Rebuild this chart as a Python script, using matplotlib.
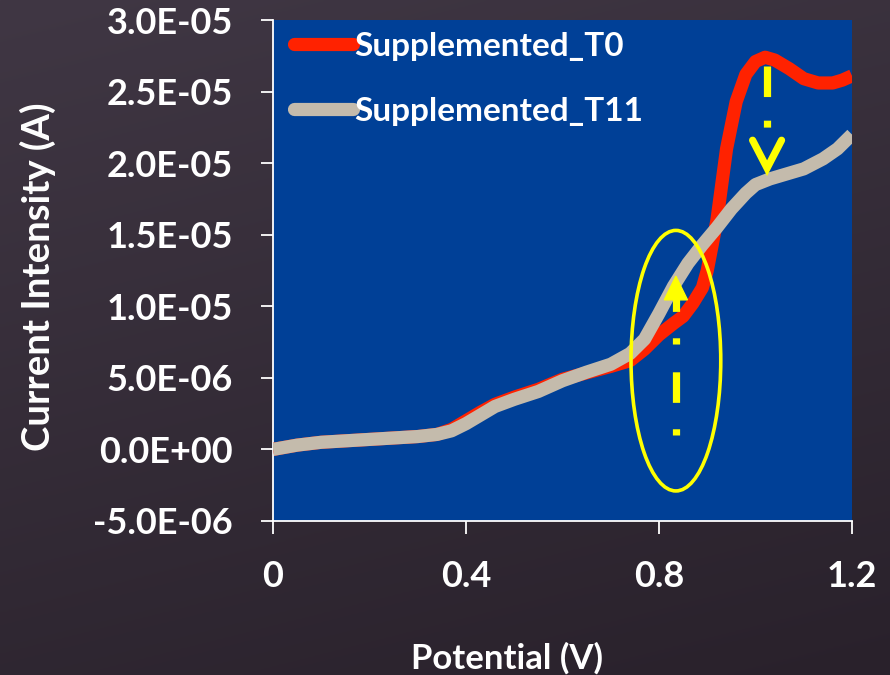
import numpy as np
import matplotlib
matplotlib.use("Agg")
import matplotlib.pyplot as plt
from matplotlib.patches import Ellipse, Polygon

# ---- data ----
x_t0 = [0.00, 0.05, 0.10, 0.15, 0.20, 0.25, 0.30, 0.34, 0.37, 0.40, 0.43, 0.46,
        0.50, 0.55, 0.60, 0.65, 0.70, 0.74, 0.77, 0.80, 0.83, 0.85, 0.87, 0.89,
        0.90, 0.92, 0.94, 0.96, 0.98, 1.00, 1.02, 1.04, 1.07, 1.10, 1.13, 1.16,
        1.18, 1.20]
y_t0 = [0.0, 0.3, 0.5, 0.6, 0.7, 0.8, 0.9, 1.05, 1.4, 2.0, 2.6, 3.15,
        3.65, 4.2, 4.9, 5.35, 5.8, 6.2, 7.0, 8.0, 8.8, 9.3, 10.2, 11.3,
        12.5, 16.0, 21.0, 24.3, 26.2, 27.1, 27.4, 27.2, 26.6, 25.9, 25.6, 25.6,
        25.8, 26.1]

x_t11 = [0.00, 0.05, 0.10, 0.15, 0.20, 0.25, 0.30, 0.34, 0.37, 0.40, 0.43, 0.46,
         0.50, 0.55, 0.60, 0.65, 0.70, 0.74, 0.77, 0.80, 0.83, 0.86, 0.89, 0.92,
         0.95, 0.98, 1.00, 1.03, 1.06, 1.10, 1.14, 1.17, 1.20]
y_t11 = [0.0, 0.3, 0.5, 0.6, 0.7, 0.8, 0.9, 1.05, 1.3, 1.8, 2.4, 3.0,
         3.5, 4.05, 4.8, 5.4, 5.95, 6.7, 7.7, 9.5, 11.4, 13.0, 14.3, 15.5,
         16.8, 17.9, 18.5, 18.9, 19.2, 19.6, 20.3, 21.0, 22.0]

series_labels = ["Supplemented_T0", "Supplemented_T11"]
x_ticks = [0, 0.4, 0.8, 1.2]
x_tick_labels = ["0", "0.4", "0.8", "1.2"]
y_ticks = [-5e-6, 0, 5e-6, 1e-5, 1.5e-5, 2e-5, 2.5e-5, 3e-5]
y_tick_labels = ["-5.0E-06", "0.0E+00", "5.0E-06", "1.0E-05", "1.5E-05",
                 "2.0E-05", "2.5E-05", "3.0E-05"]

scale = 1e-6
y_t0 = [v * scale for v in y_t0]
y_t11 = [v * scale for v in y_t11]

FONT = "Lato"
WHITE = "white"
BLUE = "#004097"
RED = "#ff2200"
GREY = "#c4bbac"
YELLOW = "#ffff00"

plt.rcParams["font.family"] = [FONT, "DejaVu Sans"]
plt.rcParams["font.weight"] = "bold"
plt.rcParams["lines.scale_dashes"] = False

fig = plt.figure(figsize=(8.9, 6.75), dpi=100)

# background gradient
bg = fig.add_axes([0, 0, 1, 1], zorder=-10)
yy = np.linspace(0, 1, 300)[:, None]
xx = np.linspace(0, 1, 300)[None, :]
top = np.array([0x40, 0x37, 0x44]) / 255
bot = np.array([0x29, 0x21, 0x2b]) / 255
t = (0.75 * yy + 0.25 * xx)
img = top[None, None, :] * (1 - t[..., None]) + bot[None, None, :] * t[..., None]
bg.imshow(img, aspect="auto", extent=[0, 1, 0, 1], origin="upper")
bg.set_axis_off()

ax = fig.add_axes([273 / 890, 1 - 521 / 675, (852 - 273) / 890, (521 - 20) / 675])
ax.set_facecolor(BLUE)
ax.set_xlim(0, 1.2)
ax.set_ylim(-5e-6, 3e-5)

ax.plot(x_t0, y_t0, color=RED, lw=9.5, solid_capstyle="butt",
        solid_joinstyle="round", label=series_labels[0], zorder=3)
ax.plot(x_t11, y_t11, color=GREY, lw=9.5, solid_capstyle="butt",
        solid_joinstyle="round", label=series_labels[1], zorder=4)

for s in ["top", "right"]:
    ax.spines[s].set_visible(False)
for s in ["left", "bottom"]:
    ax.spines[s].set_color(WHITE)
    ax.spines[s].set_linewidth(1.3)

ax.set_xticks(x_ticks)
ax.set_xticklabels(x_tick_labels)
ax.set_yticks(y_ticks)
ax.set_yticklabels(y_tick_labels)
ax.tick_params(axis="both", direction="out", length=9, width=1.3, color=WHITE,
               labelcolor=WHITE, labelsize=26)
ax.tick_params(axis="x", pad=19)
ax.tick_params(axis="y", pad=20)
for lab in ax.get_xticklabels() + ax.get_yticklabels():
    lab.set_fontweight("bold")

leg = ax.legend(loc="upper left", frameon=False, fontsize=24, handlelength=1.75,
                handletextpad=0.05, labelspacing=1.08,
                bbox_to_anchor=(0.005, 1.013), borderaxespad=0.15)
for h in leg.get_lines():
    h.set_solid_capstyle("round")
    h.set_linewidth(9.5)
for txt in leg.get_texts():
    txt.set_color(WHITE)
    txt.set_fontweight("bold")

# ---- yellow annotations ----
ell = Ellipse((0.835, 6.2e-6), 0.186, 1.82e-5, fill=False, edgecolor=YELLOW,
              lw=2.6, zorder=6)
ax.add_patch(ell)

up_x = 0.835
ax.plot([up_x, up_x], [1.0e-6, 1.08e-5], color=YELLOW, lw=5.2,
        solid_capstyle="butt", dash_capstyle="butt",
        linestyle=(0, (4.5, 19, 22, 20)), zorder=7)
ax.add_patch(Polygon([[up_x - 0.024, 1.045e-5], [up_x + 0.024, 1.045e-5],
                      [up_x, 1.21e-5]], closed=True, color=YELLOW, zorder=7))

dn_x = 1.024
ax.plot([dn_x, dn_x], [2.68e-5, 2.22e-5], color=YELLOW, lw=5.2,
        dash_capstyle="butt", linestyle=(0, (22, 17, 5, 30)), zorder=7)
ax.plot([dn_x - 0.03, dn_x, dn_x + 0.03], [2.16e-5, 1.965e-5, 2.16e-5],
        color=YELLOW, lw=5.2, solid_capstyle="round", solid_joinstyle="miter",
        zorder=7)

fig.text(507 / 890, 1 - 658 / 675, "Potential (V)", color=WHITE, fontsize=25,
         fontweight="bold", ha="center", va="center")
fig.text(38 / 890, 1 - 277 / 675, "Current Intensity (A)", color=WHITE,
         fontsize=27.5, fontweight="bold", ha="center", va="center", rotation=90)

fig.savefig("out.png", dpi=100)
